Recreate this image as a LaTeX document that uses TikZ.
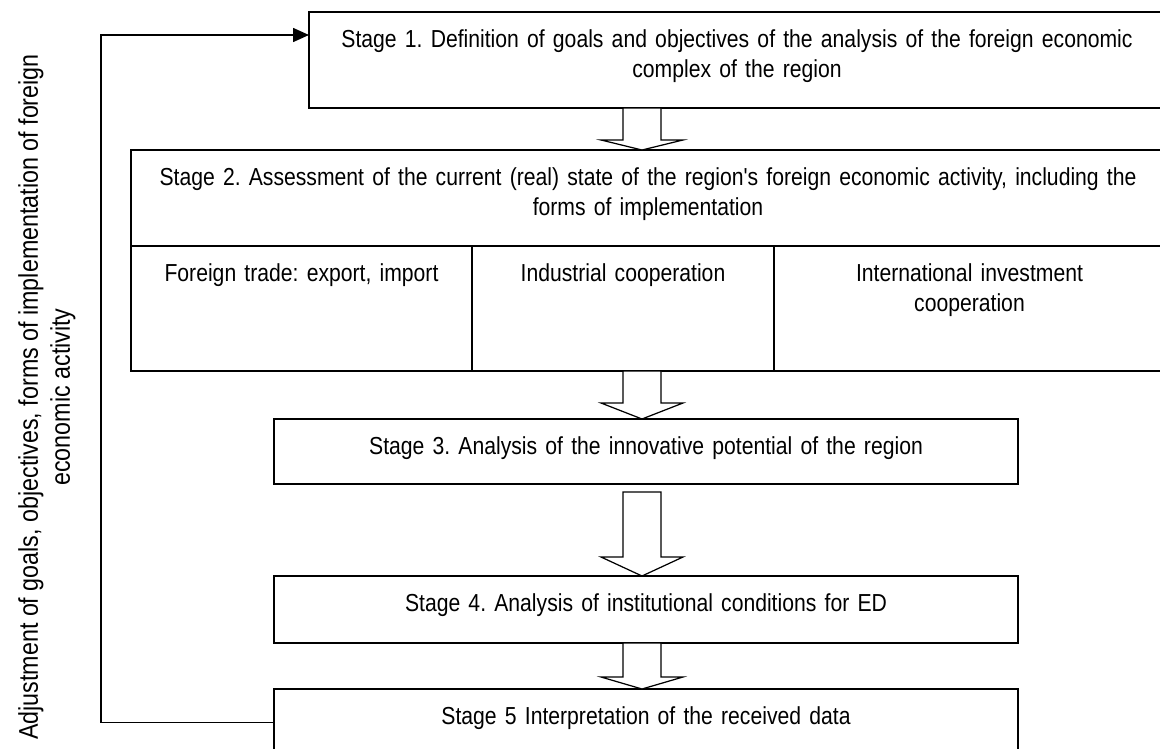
\documentclass[tikz,border=0pt]{standalone}
\usepackage{fontspec}
\usepackage{tikz}
\usetikzlibrary{positioning, calc, arrows.meta}
\newfontfamily\stagefont[FakeStretch=0.86]{Liberation Sans}
\newfontfamily\sidefont[FakeStretch=0.86]{Liberation Sans}
\frenchspacing
\tikzstyle{stage} = [rectangle, draw=black, line width=0.9pt, inner xsep=4pt, inner ysep=0pt, outer sep=0pt, align=center, text height=0.7cm, font=\stagefont\fontsize{14pt}{17.6pt}\selectfont]
\tikzstyle{hollow} = [draw=black, line width=0.7pt, fill=white]
\tikzstyle{line} = [draw, line width=0.9pt, -{Triangle[length=0.32cm, width=0.28cm]}]
\tikzstyle{side} = [rotate=90, anchor=north, inner sep=0pt, align=center, font=\sidefont\fontsize{15.4pt}{18.2pt}\selectfont]
\newcommand{\arrowaxis}{12.84cm}
\newcommand{\blockarrow}[4]{%
	\path [hollow] let \p1=(#1.south), \p2=(#2.north) in
		(\arrowaxis-0.38cm,\y1-#3) -- (\arrowaxis-0.38cm,\y2+#4) -- (\arrowaxis-0.82cm,\y2+#4)
		-- (\arrowaxis,\y2) -- (\arrowaxis+0.82cm,\y2+#4) -- (\arrowaxis+0.38cm,\y2+#4)
		-- (\arrowaxis+0.38cm,\y1-#3) -- cycle;}

\begin{document}
\begin{tikzpicture}
	\useasboundingbox (0,0) rectangle (23.2,-14.98);

		% Stages
	         \node(s1)  [stage, minimum width=17.12cm, text width=16.8cm, text depth=1.22cm] at (14.74,-1.20) {Stage 1. Definition of goals and objectives of the analysis of the foreign economic\\complex of the region};
	         \node(s2)  [stage, below=0.84cm of s1, xshift=-1.78cm, minimum width=20.68cm, text width=20.3cm, text depth=1.22cm] {Stage 2. Assessment of the current (real) state of the region's foreign economic activity, including the\\forms of implementation};
	         \node(c1)  [stage, anchor=north west, minimum width=6.82cm, text width=6.4cm, text depth=1.8cm] at (s2.south west) {Foreign trade: export, import};
	         \node(c2)  [stage, right=0cm of c1, minimum width=6.04cm, text width=5.7cm, text depth=1.8cm] {Industrial cooperation};
	         \node(c3)  [stage, right=0cm of c2, minimum width=7.82cm, text width=7.4cm, text depth=1.8cm] {International investment\\cooperation};
	         \node(s3)  [stage, below=0.96cm of c2, xshift=0.46cm, minimum width=14.88cm, text width=14.5cm, text depth=0.6cm] {Stage 3. Analysis of the innovative potential of the region};
	         \node(s4)  [stage, below=1.84cm of s3, minimum width=14.88cm, text width=14.5cm, text depth=0.64cm] {Stage 4. Analysis of institutional conditions for ED};
	         \node(s5)  [stage, below=0.92cm of s4, minimum width=14.88cm, text width=14.5cm, text depth=0.64cm] {Stage 5 Interpretation of the received data};

	         \node(adjust) [side] at (0.36,-7.94) {Adjustment of goals, objectives, forms of implementation of foreign\\economic activity};
	         \coordinate (fbin) at ([yshift=-0.46cm]s1.north west);

		 % Draw edges
		 \blockarrow{s1}{s2}{0cm}{0.2cm}
		 \blockarrow{c2}{s3}{0cm}{0.32cm}
		 \blockarrow{s3}{s4}{0.16cm}{0.38cm}
		 \blockarrow{s4}{s5}{0cm}{0.24cm}
		 \path [line] (s5.west) -- ++(-3.46,0) |- (fbin);

        \end{tikzpicture}
\end{document}
